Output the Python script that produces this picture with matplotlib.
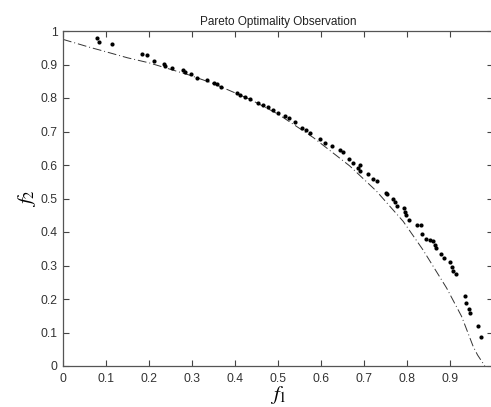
import matplotlib
matplotlib.use("Agg")
import matplotlib.pyplot as plt

# Pareto front (dash-dot line)
front_f1 = [0.0, 0.063, 0.086, 0.15, 0.2, 0.295, 0.35, 0.435, 0.5, 0.582,
            0.667, 0.729, 0.791, 0.837, 0.892, 0.927, 0.954, 0.964, 0.981]
front_f2 = [0.975, 0.951, 0.943, 0.92, 0.905, 0.868, 0.843, 0.796, 0.752, 0.682,
            0.597, 0.522, 0.432, 0.347, 0.233, 0.148, 0.058, 0.033, 0.0]

# observed solutions (dots)
obs_f1 = [0.080, 0.084, 0.114, 0.183, 0.195, 0.212, 0.235, 0.238, 0.253, 0.278,
          0.284, 0.298, 0.312, 0.334, 0.350, 0.359, 0.368, 0.404, 0.412, 0.423,
          0.436, 0.454, 0.464, 0.477, 0.489, 0.501, 0.516, 0.526, 0.540, 0.555,
          0.565, 0.574, 0.598, 0.609, 0.625, 0.644, 0.650, 0.664, 0.674, 0.685,
          0.691, 0.691, 0.710, 0.720, 0.731, 0.751, 0.754, 0.768, 0.772, 0.776,
          0.793, 0.795, 0.798, 0.805, 0.824, 0.832, 0.834, 0.844, 0.853, 0.861,
          0.866, 0.867, 0.878, 0.886, 0.900, 0.904, 0.908, 0.914, 0.935, 0.937,
          0.944, 0.947, 0.964, 0.971]
obs_f2 = [0.979, 0.966, 0.961, 0.932, 0.927, 0.909, 0.902, 0.897, 0.889, 0.883,
          0.877, 0.871, 0.861, 0.853, 0.844, 0.841, 0.834, 0.816, 0.809, 0.803,
          0.798, 0.784, 0.778, 0.773, 0.764, 0.754, 0.746, 0.740, 0.728, 0.711,
          0.704, 0.697, 0.677, 0.667, 0.657, 0.645, 0.639, 0.619, 0.607, 0.592,
          0.599, 0.582, 0.572, 0.557, 0.552, 0.517, 0.512, 0.499, 0.489, 0.477,
          0.472, 0.459, 0.452, 0.437, 0.422, 0.422, 0.395, 0.380, 0.375, 0.372,
          0.362, 0.352, 0.334, 0.322, 0.310, 0.297, 0.285, 0.275, 0.210, 0.188,
          0.170, 0.157, 0.118, 0.086]

xticks = [0, 0.1, 0.2, 0.3, 0.4, 0.5, 0.6, 0.7, 0.8, 0.9]
yticks = [0, 0.1, 0.2, 0.3, 0.4, 0.5, 0.6, 0.7, 0.8, 0.9, 1]


def main():
    plt.rcParams["font.family"] = ["Liberation Sans", "DejaVu Sans"]
    plt.rcParams["mathtext.fontset"] = "stix"

    fig = plt.figure(figsize=(4.91, 4.07), dpi=100)
    ax = fig.add_axes([63 / 491, 41 / 407, 430 / 491, 335 / 407])

    ax.plot(front_f1, front_f2, color="#333333", lw=0.7,
            linestyle=(0, (9, 3, 1, 3)))
    ax.plot(obs_f1, obs_f2, "o", color="black", markersize=3.0,
            markeredgewidth=0)

    ax.set_xlim(0, 1)
    ax.set_ylim(0, 1)
    ax.set_xticks(xticks)
    ax.set_xticklabels([f"{t:g}" for t in xticks])
    ax.set_yticks(yticks)
    ax.set_yticklabels([f"{t:g}" for t in yticks])
    ax.tick_params(direction="in", length=4, width=0.8, color="#444444",
                   labelsize=8.7, labelcolor="#333333", top=True, right=True)
    ax.tick_params(axis="x", pad=5)
    ax.tick_params(axis="y", pad=4)
    for s in ax.spines.values():
        s.set_color("#555555")
        s.set_linewidth(0.9)

    ax.set_title("Pareto Optimality Observation", fontsize=8.5, color="#222222",
                 pad=4)
    ax.set_xlabel("$f_1$", fontsize=15, labelpad=-1)
    ax.set_ylabel("$f_2$", fontsize=15, labelpad=2)

    fig.savefig("out.png", dpi=100, facecolor="white")
    plt.close(fig)


if __name__ == "__main__":
    main()
